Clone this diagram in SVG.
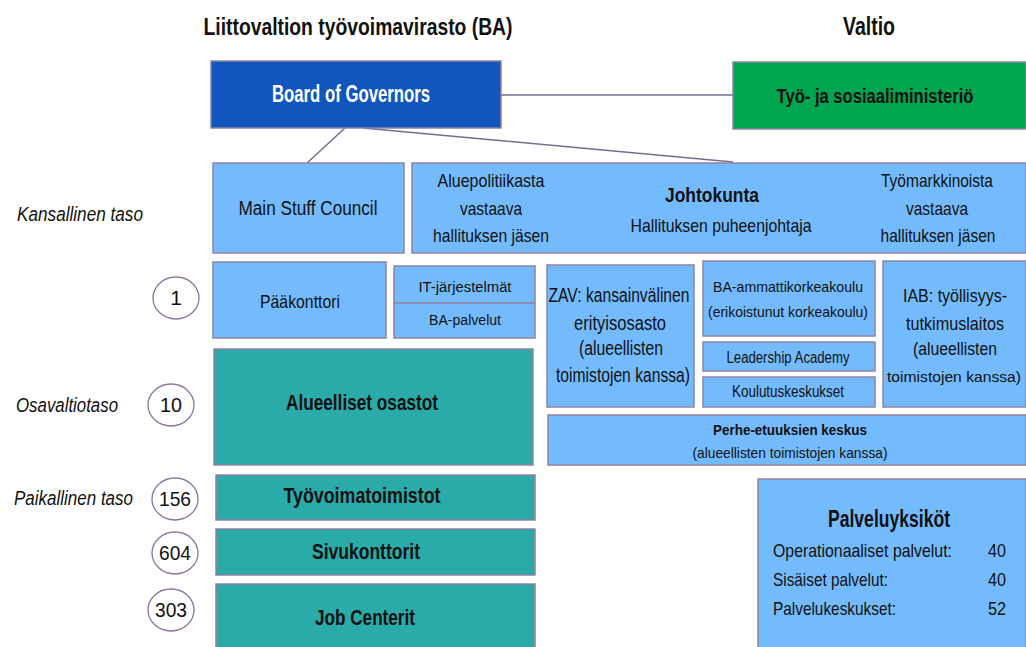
<svg xmlns="http://www.w3.org/2000/svg" width="1026" height="647" viewBox="0 0 1026 647">
<style>
text{font-family:"Liberation Sans",Arial,sans-serif;fill:#111;}
.b{font-weight:bold;}
.i{font-style:italic;}
.m{text-anchor:middle;}
.lb{fill:#74bbfe;stroke:#8f84a3;stroke-width:1.5;}
.tl{fill:#2aaaa8;stroke:#8f84a3;stroke-width:1.5;}
.cir{fill:#fff;stroke:#8a73a0;stroke-width:1.3;}
.con{stroke:#7a6b93;stroke-width:1.5;fill:none;}
</style>
<rect width="1026" height="647" fill="#fff"/>
<g id="headers">
<text class="b m" x="358" y="35" font-size="24" textLength="309" lengthAdjust="spacingAndGlyphs">Liittovaltion työvoimavirasto (BA)</text>
<text class="b m" x="869" y="35" font-size="25" textLength="52" lengthAdjust="spacingAndGlyphs">Valtio</text>
</g>
<g id="levels">
<text class="i" x="17" y="221" font-size="20" textLength="126" lengthAdjust="spacingAndGlyphs">Kansallinen taso</text>
<text class="i" x="16" y="412" font-size="20" textLength="102" lengthAdjust="spacingAndGlyphs">Osavaltiotaso</text>
<text class="i" x="14" y="505" font-size="20" textLength="119" lengthAdjust="spacingAndGlyphs">Paikallinen taso</text>
</g>
<g id="connectors">
<line class="con" x1="501" y1="95" x2="733" y2="95"/>
<line class="con" x1="345" y1="128" x2="307" y2="163"/>
<line class="con" x1="363" y1="128" x2="733" y2="162"/>
</g>
<g id="board">
<rect x="211" y="61" width="290" height="67" fill="#1156bd" stroke="#8f84a3" stroke-width="1.5"/>
<text class="b m" x="351" y="102" font-size="23" style="fill:#fff" textLength="158" lengthAdjust="spacingAndGlyphs">Board of Governors</text>
</g>
<g id="ministry">
<rect x="733" y="62" width="293" height="67" fill="#00a550" stroke="#8f84a3" stroke-width="1.5"/>
<text class="b m" x="875" y="103" font-size="20" textLength="197" lengthAdjust="spacingAndGlyphs">Työ- ja sosiaaliministeriö</text>
</g>
<g id="msc">
<rect class="lb" x="213" y="163" width="191" height="90"/>
<text class="m" x="308" y="215" font-size="20" textLength="139" lengthAdjust="spacingAndGlyphs">Main Stuff Council</text>
</g>
<g id="johtokunta">
<rect class="lb" x="412" y="163" width="614" height="90"/>
<text class="m" x="491" y="187" font-size="19" textLength="107" lengthAdjust="spacingAndGlyphs">Aluepolitiikasta</text>
<text class="m" x="491" y="215" font-size="19" textLength="62" lengthAdjust="spacingAndGlyphs">vastaava</text>
<text class="m" x="491" y="242" font-size="19" textLength="116" lengthAdjust="spacingAndGlyphs">hallituksen jäsen</text>
<text class="b m" x="712" y="202" font-size="20.5" textLength="94" lengthAdjust="spacingAndGlyphs">Johtokunta</text>
<text class="m" x="721" y="232" font-size="18.5" textLength="181" lengthAdjust="spacingAndGlyphs">Hallituksen puheenjohtaja</text>
<text class="m" x="937" y="187" font-size="19" textLength="112" lengthAdjust="spacingAndGlyphs">Työmarkkinoista</text>
<text class="m" x="937" y="215" font-size="19" textLength="62" lengthAdjust="spacingAndGlyphs">vastaava</text>
<text class="m" x="938" y="242" font-size="19" textLength="115" lengthAdjust="spacingAndGlyphs">hallituksen jäsen</text>
</g>
<g id="paakonttori">
<rect class="lb" x="213" y="262" width="173" height="76"/>
<text class="m" x="300" y="308" font-size="18.5" textLength="80" lengthAdjust="spacingAndGlyphs">Pääkonttori</text>
</g>
<g id="it">
<rect class="lb" x="394" y="266" width="141" height="37"/>
<text class="m" x="465" y="292" font-size="15.5" textLength="93" lengthAdjust="spacingAndGlyphs">IT-järjestelmät</text>
</g>
<g id="bapalvelut">
<rect class="lb" x="394" y="303" width="141" height="35"/>
<text class="m" x="465" y="325" font-size="15.5" textLength="72" lengthAdjust="spacingAndGlyphs">BA-palvelut</text>
</g>
<g id="zav">
<rect class="lb" x="547" y="265" width="147" height="142"/>
<text class="m" x="619" y="302" font-size="19.5" textLength="141" lengthAdjust="spacingAndGlyphs">ZAV: kansainvälinen</text>
<text class="m" x="620" y="330" font-size="19.5" textLength="92" lengthAdjust="spacingAndGlyphs">erityisosasto</text>
<text class="m" x="621" y="355" font-size="19.5" textLength="84" lengthAdjust="spacingAndGlyphs">(alueellisten</text>
<text class="m" x="623" y="382" font-size="19.5" textLength="134" lengthAdjust="spacingAndGlyphs">toimistojen kanssa)</text>
</g>
<g id="baamk">
<rect class="lb" x="703" y="261" width="172" height="75"/>
<text class="m" x="788" y="292" font-size="15" textLength="150" lengthAdjust="spacingAndGlyphs">BA-ammattikorkeakoulu</text>
<text class="m" x="788" y="317" font-size="15" textLength="160" lengthAdjust="spacingAndGlyphs">(erikoistunut korkeakoulu)</text>
</g>
<g id="leadership">
<rect class="lb" x="703" y="342" width="172" height="29"/>
<text class="m" x="788" y="363" font-size="16" textLength="123" lengthAdjust="spacingAndGlyphs">Leadership Academy</text>
</g>
<g id="koulutus">
<rect class="lb" x="703" y="377" width="172" height="30"/>
<text class="m" x="788" y="397" font-size="16" textLength="112" lengthAdjust="spacingAndGlyphs">Koulutuskeskukset</text>
</g>
<g id="iab">
<rect class="lb" x="883" y="261" width="143" height="146"/>
<text class="m" x="955" y="302" font-size="18" textLength="104" lengthAdjust="spacingAndGlyphs">IAB: työllisyys-</text>
<text class="m" x="955" y="330" font-size="19" textLength="98" lengthAdjust="spacingAndGlyphs">tutkimuslaitos</text>
<text class="m" x="955" y="355" font-size="19" textLength="84" lengthAdjust="spacingAndGlyphs">(alueellisten</text>
<text class="m" x="954" y="382" font-size="15.5" textLength="134" lengthAdjust="spacingAndGlyphs">toimistojen kanssa)</text>
</g>
<g id="perhe">
<rect class="lb" x="548" y="415" width="478" height="50"/>
<text class="b m" x="790" y="435" font-size="15.5" textLength="154" lengthAdjust="spacingAndGlyphs">Perhe-etuuksien keskus</text>
<text class="m" x="790" y="458" font-size="15" textLength="195" lengthAdjust="spacingAndGlyphs">(alueellisten toimistojen kanssa)</text>
</g>
<g id="palveluyksikot">
<rect class="lb" x="758" y="479" width="268" height="175"/>
<text class="b m" x="889" y="527" font-size="23" textLength="122" lengthAdjust="spacingAndGlyphs">Palveluyksiköt</text>
<text x="773" y="557" font-size="19" textLength="179" lengthAdjust="spacingAndGlyphs">Operationaaliset palvelut:</text>
<text x="773" y="586" font-size="19" textLength="115" lengthAdjust="spacingAndGlyphs">Sisäiset palvelut:</text>
<text x="773" y="615" font-size="19" textLength="123" lengthAdjust="spacingAndGlyphs">Palvelukeskukset:</text>
<text x="1006" y="557" font-size="19" text-anchor="end" textLength="18" lengthAdjust="spacingAndGlyphs">40</text>
<text x="1006" y="586" font-size="19" text-anchor="end" textLength="18" lengthAdjust="spacingAndGlyphs">40</text>
<text x="1006" y="615" font-size="19" text-anchor="end" textLength="18" lengthAdjust="spacingAndGlyphs">52</text>
</g>
<g id="alueelliset">
<rect class="tl" x="214" y="349" width="319" height="116"/>
<text class="b m" x="362" y="410" font-size="22" textLength="152" lengthAdjust="spacingAndGlyphs">Alueelliset osastot</text>
</g>
<g id="tyovoimatoimistot">
<rect class="tl" x="216" y="475" width="319" height="45"/>
<text class="b m" x="362" y="503" font-size="22" textLength="157" lengthAdjust="spacingAndGlyphs">Työvoimatoimistot</text>
</g>
<g id="sivukonttorit">
<rect class="tl" x="216" y="529" width="319" height="46"/>
<text class="b m" x="366" y="559" font-size="22" textLength="108" lengthAdjust="spacingAndGlyphs">Sivukonttorit</text>
</g>
<g id="jobcenterit">
<rect class="tl" x="216" y="584" width="319" height="70"/>
<text class="b m" x="365" y="625" font-size="22" textLength="100" lengthAdjust="spacingAndGlyphs">Job Centerit</text>
</g>
<g id="counts">
<ellipse class="cir" cx="176" cy="298" rx="23" ry="21"/>
<text class="m" x="176" y="305" font-size="21">1</text>
<ellipse class="cir" cx="171" cy="405" rx="23" ry="21"/>
<text class="m" x="171" y="412" font-size="21" textLength="22" lengthAdjust="spacingAndGlyphs">10</text>
<ellipse class="cir" cx="175" cy="499" rx="23" ry="21"/>
<text class="m" x="175" y="506" font-size="21" textLength="32" lengthAdjust="spacingAndGlyphs">156</text>
<ellipse class="cir" cx="175" cy="553" rx="23" ry="21"/>
<text class="m" x="175" y="560" font-size="21" textLength="32" lengthAdjust="spacingAndGlyphs">604</text>
<ellipse class="cir" cx="171" cy="610" rx="23" ry="21"/>
<text class="m" x="171" y="617" font-size="21" textLength="32" lengthAdjust="spacingAndGlyphs">303</text>
</g>
</svg>
